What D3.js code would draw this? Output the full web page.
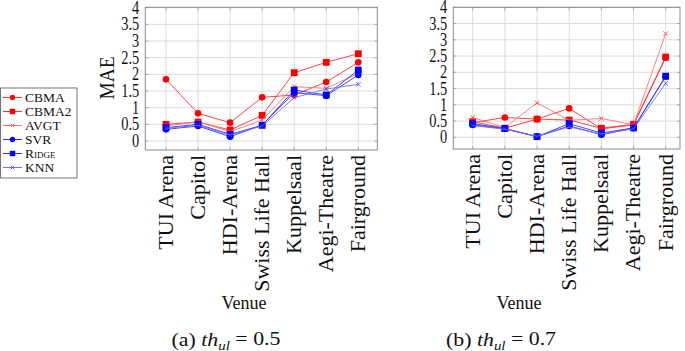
<!DOCTYPE html>
<html><head><meta charset="utf-8">
<script src="https://cdn.jsdelivr.net/npm/d3@7"></script>
<style>
html,body{margin:0;padding:0;background:#fff;}
svg, svg text{font-family:"Liberation Serif","DejaVu Serif","Noto Serif","Times New Roman",serif;}
</style></head>
<body><svg id="c" width="685" height="351"></svg>
<script>
const venues = ["TUI Arena","Capitol","HDI-Arena","Swiss Life Hall","Kuppelsaal","Aegi-Theatre","Fairground"];
const yTicks = [0,0.5,1,1.5,2,2.5,3,3.5,4];
const yTickLabels = ["0","0.5","1","1.5","2","2.5","3","3.5","4"];
const seriesNames = ["CBMA","CBMA2","AVGT","SVR","Ridge","KNN"];

// (a) th_ul = 0.5
const cbmaA  = [1.85, 0.83, 0.55, 1.31, 1.38, 1.77, 2.36];
const cbma2A = [0.50, 0.57, 0.33, 0.77, 2.05, 2.36, 2.62];
const avgtA  = [0.45, 0.58, 0.28, 0.63, 1.63, 1.58, 2.03];
const svrA   = [0.35, 0.45, 0.13, 0.48, 1.45, 1.36, 1.98];
const ridgeA = [0.40, 0.50, 0.20, 0.47, 1.53, 1.38, 2.13];
const knnA   = [0.38, 0.47, 0.18, 0.45, 1.30, 1.56, 1.70];
// (b) th_ul = 0.7
const cbmaB  = [0.45, 0.61, 0.56, 0.89, 0.26, 0.38, 2.45];
const cbma2B = [0.48, 0.28, 0.56, 0.53, 0.28, 0.40, 2.47];
const avgtB  = [0.61, 0.30, 1.06, 0.52, 0.58, 0.38, 3.19];
const svrB   = [0.38, 0.26, 0.02, 0.35, 0.08, 0.28, 1.87];
const ridgeB = [0.42, 0.27, 0.02, 0.42, 0.13, 0.29, 1.88];
const knnB   = [0.36, 0.25, 0.03, 0.32, 0.10, 0.26, 1.66];

const styles = {
  CBMA:  {line:"#ff3030", fill:"#ff0000", marker:"circle"},
  CBMA2: {line:"#ff3030", fill:"#ff0000", marker:"square"},
  AVGT:  {line:"#ff7070", fill:"#ff4040", marker:"x"},
  SVR:   {line:"#3030ff", fill:"#0000ff", marker:"circle"},
  Ridge: {line:"#3030ff", fill:"#0000ff", marker:"square"},
  KNN:   {line:"#7070ff", fill:"#4040ff", marker:"x"}
};

const svg = d3.select("#c");

function drawMarker(g, type, x, y, fill, scale=1){
  if(type==="circle"){
    g.append("circle").attr("cx",x).attr("cy",y).attr("r",3.3*scale).attr("fill",fill);
  } else if(type==="square"){
    const s=3.4*scale;
    g.append("rect").attr("x",x-s).attr("y",y-s).attr("width",2*s).attr("height",2*s).attr("fill",fill);
  } else {
    const s=2.3*scale;
    g.append("path").attr("d",`M${x-s},${y-s}L${x+s},${y+s}M${x-s},${y+s}L${x+s},${y-s}`)
      .attr("stroke",fill).attr("stroke-width",0.8).attr("fill","none");
  }
}

function panel(cfg){
  const g = svg.append("g");
  const x = d3.scalePoint().domain(venues).range([cfg.x0, cfg.x1]);
  const y = d3.scaleLinear().domain([0,4]).range([cfg.yb, cfg.yt]);
  const F = cfg.frame;
  g.selectAll(".hg").data(yTicks).join("line")
    .attr("x1",F.l).attr("x2",F.r).attr("y1",d=>y(d)).attr("y2",d=>y(d))
    .attr("stroke","#dcdcdc").attr("stroke-width",1);
  g.selectAll(".vg").data(venues).join("line")
    .attr("x1",d=>x(d)).attr("x2",d=>x(d)).attr("y1",F.t).attr("y2",F.b)
    .attr("stroke","#dcdcdc").attr("stroke-width",1);
  g.selectAll(".yt").data(yTicks).join("line")
    .attr("x1",F.l).attr("x2",F.l+3).attr("y1",d=>y(d)).attr("y2",d=>y(d))
    .attr("stroke","#999").attr("stroke-width",0.8);
  g.selectAll(".yt2").data(yTicks).join("line")
    .attr("x1",F.r).attr("x2",F.r-3).attr("y1",d=>y(d)).attr("y2",d=>y(d))
    .attr("stroke","#999").attr("stroke-width",0.8);
  g.selectAll(".xt").data(venues).join("line")
    .attr("x1",d=>x(d)).attr("x2",d=>x(d)).attr("y1",F.b).attr("y2",F.b-3)
    .attr("stroke","#999").attr("stroke-width",0.8);
  g.selectAll(".xt2").data(venues).join("line")
    .attr("x1",d=>x(d)).attr("x2",d=>x(d)).attr("y1",F.t).attr("y2",F.t+3)
    .attr("stroke","#999").attr("stroke-width",0.8);
  g.append("rect").attr("x",F.l).attr("y",F.t).attr("width",F.r-F.l).attr("height",F.b-F.t)
    .attr("fill","none").attr("stroke","#8a8a8a").attr("stroke-width",1);
  yTicks.forEach((t,i)=>{
    g.append("text").attr("transform",`translate(${F.l-6},${y(t)}) scale(0.8,1)`)
      .attr("text-anchor","end").attr("dy","0.34em").attr("font-size",18)
      .attr("fill","#111").text(yTickLabels[i]);
  });
  venues.forEach(v=>{
    g.append("text").attr("transform",`translate(${x(v)},${F.b+5}) rotate(-90) scale(1.1,1)`)
      .attr("text-anchor","end").attr("dy","0.34em").attr("font-size",20)
      .attr("fill","#111").text(v);
  });
  if(cfg.mae){
    g.append("text").attr("transform",`translate(${cfg.maeX},${cfg.maeY}) rotate(-90) scale(0.92,1)`)
      .attr("text-anchor","middle").attr("dy","0.34em").attr("font-size",21).attr("fill","#111").text("MAE");
  }
  g.append("text").attr("transform",`translate(${cfg.venueX},303) scale(0.95,1)`)
    .attr("text-anchor","middle").attr("dy","0.34em").attr("font-size",19).attr("fill","#111").text("Venue");
  const cap = g.append("text").attr("transform",`translate(${cfg.capX},340) scale(1.15,1)`)
    .attr("text-anchor","middle").attr("dy","0.34em").attr("font-size",19).attr("fill","#111");
  cap.append("tspan").text(cfg.capLabel+" ");
  cap.append("tspan").attr("font-style","italic").text("th");
  cap.append("tspan").attr("font-style","italic").attr("font-size",13).attr("dy","0.3em").text("ul");
  cap.append("tspan").attr("dy","-0.3em").attr("font-size",19).text(" = "+cfg.capVal);
  const line = d3.line().x((d,i)=>x(venues[i])).y(d=>y(d));
  cfg.data.forEach((arr,k)=>{
    const st = styles[seriesNames[k]];
    const sg = g.append("g");
    sg.append("path").datum(arr).attr("d",line).attr("fill","none")
      .attr("stroke",st.line).attr("stroke-width",0.9);
    arr.forEach((v,i)=>drawMarker(sg, st.marker, x(venues[i]), y(v), st.fill));
  });
}

panel({x0:166, x1:358.3, yb:141, yt:7.7, frame:{l:145.3,r:377.3,t:7.3,b:150},
  mae:true, maeX:107, maeY:78, venueX:244, capX:226, capLabel:"(a)", capVal:"0.5",
  data:[cbmaA,cbma2A,avgtA,svrA,ridgeA,knnA]});
panel({x0:472.7, x1:665.7, yb:137.3, yt:7.3, frame:{l:453.3,r:680,t:7.3,b:149},
  mae:false, venueX:519, capX:501, capLabel:"(b)", capVal:"0.7",
  data:[cbmaB,cbma2B,avgtB,svrB,ridgeB,knnB]});

const lg = svg.append("g");
lg.append("rect").attr("x",0.5).attr("y",88).attr("width",76.5).attr("height",90)
  .attr("fill","#fff").attr("stroke","#666").attr("stroke-width",0.9);
seriesNames.forEach((n,i)=>{
  const yy = 97.5 + i*14;
  const st = styles[n];
  lg.append("line").attr("x1",3).attr("x2",22).attr("y1",yy).attr("y2",yy)
    .attr("stroke",st.line).attr("stroke-width",1);
  drawMarker(lg, st.marker, 12.5, yy, st.fill, 0.8);
  const t = lg.append("text").attr("x",25).attr("y",yy).attr("dy","0.34em")
    .attr("font-size",13.5).attr("fill","#111").text(n);
  if(n==="Ridge") t.attr("font-variant","small-caps");
});
</script></body></html>
